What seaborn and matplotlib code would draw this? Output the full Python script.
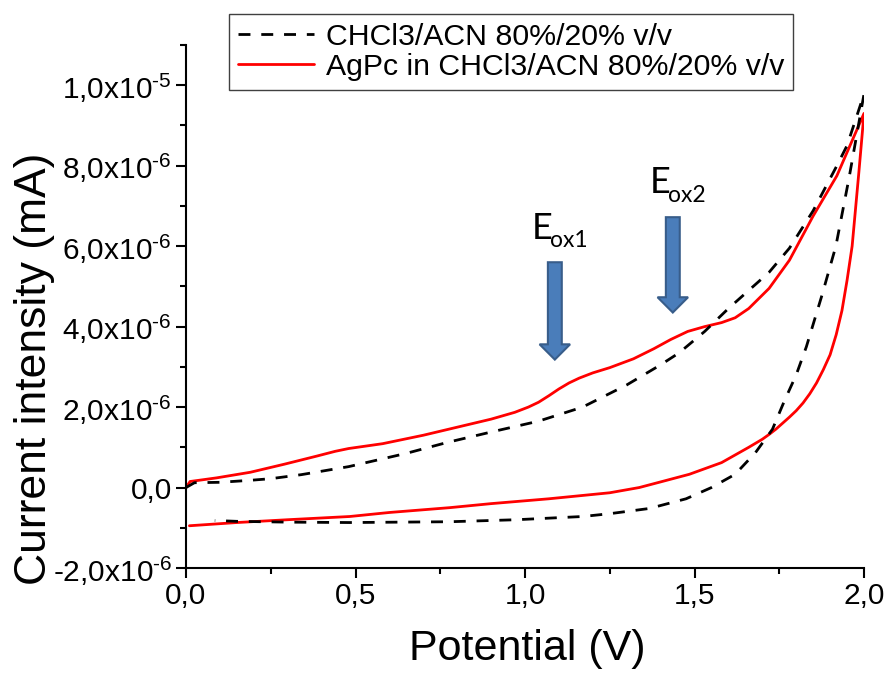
import numpy as np
import pandas as pd
import matplotlib
matplotlib.use("Agg")
import matplotlib.pyplot as plt
import seaborn as sns
from matplotlib.patches import FancyArrow
from matplotlib.ticker import MultipleLocator

# ---------------- data (current in units of 1e-6 mA) ----------------
SCALE = 1e-6

# solvent blank: CHCl3/ACN 80%/20% v/v (forward then reverse scan)
V_solv_fwd = [0.00, 0.025, 0.10, 0.19, 0.25, 0.34, 0.48, 0.65, 0.77, 0.90, 1.04, 1.17,
              1.30, 1.40, 1.455, 1.53, 1.60, 1.66, 1.72, 1.78, 1.85, 1.92, 1.95, 2.00]
I_solv_fwd = [0.00, 0.12, 0.13, 0.18, 0.22, 0.32, 0.52, 0.85, 1.12, 1.38, 1.65, 2.00,
              2.55, 3.05, 3.35, 3.88, 4.45, 4.90, 5.35, 5.95, 6.88, 8.00, 8.50, 9.78]
V_solv_rev = [2.00, 1.956, 1.917, 1.876, 1.83, 1.80, 1.765, 1.73, 1.68, 1.62, 1.55, 1.475,
              1.367, 1.25, 1.17, 0.975, 0.778, 0.483, 0.30, 0.15, 0.085]
I_solv_rev = [9.78, 7.70, 6.00, 4.78, 3.50, 2.80, 2.15, 1.45, 0.87, 0.33, 0.00, -0.28,
              -0.52, -0.65, -0.72, -0.80, -0.85, -0.87, -0.86, -0.84, -0.82]

# AgPc in CHCl3/ACN 80%/20% v/v
V_agpc_fwd = [0.00, 0.012, 0.09, 0.19, 0.29, 0.385, 0.44, 0.48, 0.53, 0.58, 0.70, 0.80,
              0.90, 0.97, 1.01, 1.04, 1.07, 1.10, 1.13, 1.16, 1.20, 1.25, 1.32, 1.38,
              1.43, 1.48, 1.53, 1.58, 1.62, 1.66, 1.72, 1.78, 1.85, 1.92, 2.00]
I_agpc_fwd = [0.00, 0.15, 0.24, 0.38, 0.58, 0.78, 0.90, 0.97, 1.03, 1.09, 1.30, 1.50,
              1.70, 1.87, 2.00, 2.12, 2.28, 2.45, 2.60, 2.72, 2.85, 2.98, 3.20, 3.45,
              3.68, 3.88, 4.00, 4.10, 4.22, 4.45, 4.95, 5.65, 6.75, 7.75, 9.30]
V_agpc_rev = [2.00, 1.985, 1.965, 1.95, 1.935, 1.918, 1.90, 1.88, 1.86, 1.84, 1.82, 1.80,
              1.78, 1.76, 1.74, 1.72, 1.70, 1.66, 1.58, 1.485, 1.40, 1.337, 1.25, 1.07,
              0.90, 0.778, 0.60, 0.483, 0.30, 0.15, 0.01]
I_agpc_rev = [9.30, 7.85, 6.00, 5.15, 4.40, 3.80, 3.30, 2.93, 2.60, 2.33, 2.10, 1.91,
              1.75, 1.60, 1.45, 1.32, 1.20, 1.00, 0.62, 0.33, 0.14, 0.00, -0.13, -0.28,
              -0.40, -0.50, -0.62, -0.72, -0.80, -0.87, -0.95]

labels = ["CHCl3/ACN 80%/20% v/v", "AgPc in CHCl3/ACN 80%/20% v/v"]

x_ticks = [0.0, 0.5, 1.0, 1.5, 2.0]
x_tick_labels = ["0,0", "0,5", "1,0", "1,5", "2,0"]
y_ticks = [-2e-6, 0.0, 2e-6, 4e-6, 6e-6, 8e-6, 1e-5]
y_tick_labels = [r"$\text{-2,0x10}^{\text{-6}}$", "0,0",
                 r"$\text{2,0x10}^{\text{-6}}$", r"$\text{4,0x10}^{\text{-6}}$",
                 r"$\text{6,0x10}^{\text{-6}}$", r"$\text{8,0x10}^{\text{-6}}$",
                 r"$\text{1,0x10}^{\text{-5}}$"]

# peak markers: (potential, arrow top, arrow tip) in 1e-6 units
peak_names = ["ox1", "ox2"]
peak_V = [1.088, 1.436]
peak_top = [5.60, 6.72]
peak_tip = [3.18, 4.35]

# ---------------- style ----------------
sns.set_style("ticks")
plt.rcParams["font.family"] = ["Liberation Sans", "DejaVu Sans"]
plt.rcParams["mathtext.fontset"] = "custom"
plt.rcParams["mathtext.rm"] = "Liberation Sans"
plt.rcParams["mathtext.it"] = "Liberation Sans:italic"
plt.rcParams["mathtext.bf"] = "Liberation Sans:bold"
plt.rcParams["text.color"] = "black"
plt.rcParams["axes.labelcolor"] = "black"
plt.rcParams["xtick.color"] = "black"
plt.rcParams["ytick.color"] = "black"

W, H = 889, 679
fig = plt.figure(figsize=(W / 100, H / 100), dpi=100)
ax_l, ax_r, ax_b, ax_t = 186, 864, 568, 45
ax = fig.add_axes([ax_l / W, 1 - ax_b / H, (ax_r - ax_l) / W, (ax_b - ax_t) / H])

df_solv = pd.DataFrame({"V": V_solv_fwd + V_solv_rev,
                        "I": np.array(I_solv_fwd + I_solv_rev) * SCALE})
df_agpc = pd.DataFrame({"V": V_agpc_fwd + V_agpc_rev,
                        "I": np.array(I_agpc_fwd + I_agpc_rev) * SCALE})

sns.lineplot(data=df_agpc, x="V", y="I", sort=False, estimator=None, ax=ax,
             color="#ff0000", lw=2.0, label=labels[1], zorder=2)
sns.lineplot(data=df_solv, x="V", y="I", sort=False, estimator=None, ax=ax,
             color="black", lw=2.0, linestyle=(0, (4.3, 3.9)), label=labels[0], zorder=3)

ax.set_xlim(0, 2.0)
ax.set_ylim(-2e-6, 1.1e-5)
ax.set_xticks(x_ticks)
ax.set_xticklabels(x_tick_labels)
ax.set_yticks(y_ticks)
ax.set_yticklabels(y_tick_labels)
ax.xaxis.set_minor_locator(MultipleLocator(0.25))
ax.yaxis.set_minor_locator(MultipleLocator(1e-6))
ax.tick_params(which="major", direction="out", length=7, width=1.5, labelsize=21.5,
               color="black", labelcolor="black")
ax.tick_params(axis="y", which="major", pad=3)
ax.tick_params(axis="x", which="major", pad=3)
ax.tick_params(which="minor", direction="out", length=4.5, width=1.5, color="black")
sns.despine(ax=ax)
for s in ["left", "bottom"]:
    ax.spines[s].set_linewidth(1.5)
    ax.spines[s].set_color("black")

ax.set_xlabel("Potential (V)", fontsize=31, va="center", color="black")
ax.xaxis.set_label_coords((527 - ax_l) / (ax_r - ax_l), -(649 - ax_b) / (ax_b - ax_t))
ax.set_ylabel("Current intensity (mA)", fontsize=32, va="center", color="black")
ax.yaxis.set_label_coords((35 - ax_l) / (ax_r - ax_l), (ax_b - 369) / (ax_b - ax_t))

# arrows + labels
for name, v, top, tip in zip(peak_names, peak_V, peak_top, peak_tip):
    arr = FancyArrow(v, top * SCALE, 0, (tip - top) * SCALE, width=0.041,
                     head_width=0.09, head_length=0.38 * SCALE,
                     length_includes_head=True, facecolor="#4a7dba",
                     edgecolor="#385d8a", lw=1.5, zorder=4)
    ax.add_patch(arr)
    ax.text(v - 0.068, (top + 0.59) * SCALE, "E", fontsize=26, family="Lato",
            ha="left", va="baseline", zorder=5, color="black")
    ax.text(v - 0.014, (top + 0.37) * SCALE, name, fontsize=16.5, family="Lato",
            ha="left", va="baseline", zorder=5, color="black")

# legend
handles, labs = ax.get_legend_handles_labels()
order = [labs.index(labels[0]), labs.index(labels[1])]
leg = ax.legend([handles[i] for i in order], [labs[i] for i in order],
                loc="upper left", bbox_to_anchor=(229 / W, 1 - 14 / H),
                bbox_transform=fig.transFigure, frameon=True, fancybox=False,
                fontsize=21.8, handlelength=2.5, handletextpad=0.4, borderpad=0.3,
                labelspacing=0.05, borderaxespad=0)
leg.get_frame().set_edgecolor("#404040")
leg.get_frame().set_linewidth(1.0)
leg.get_frame().set_alpha(1)
for t in leg.get_texts():
    t.set_color("black")

fig.savefig("out.png", dpi=100)
